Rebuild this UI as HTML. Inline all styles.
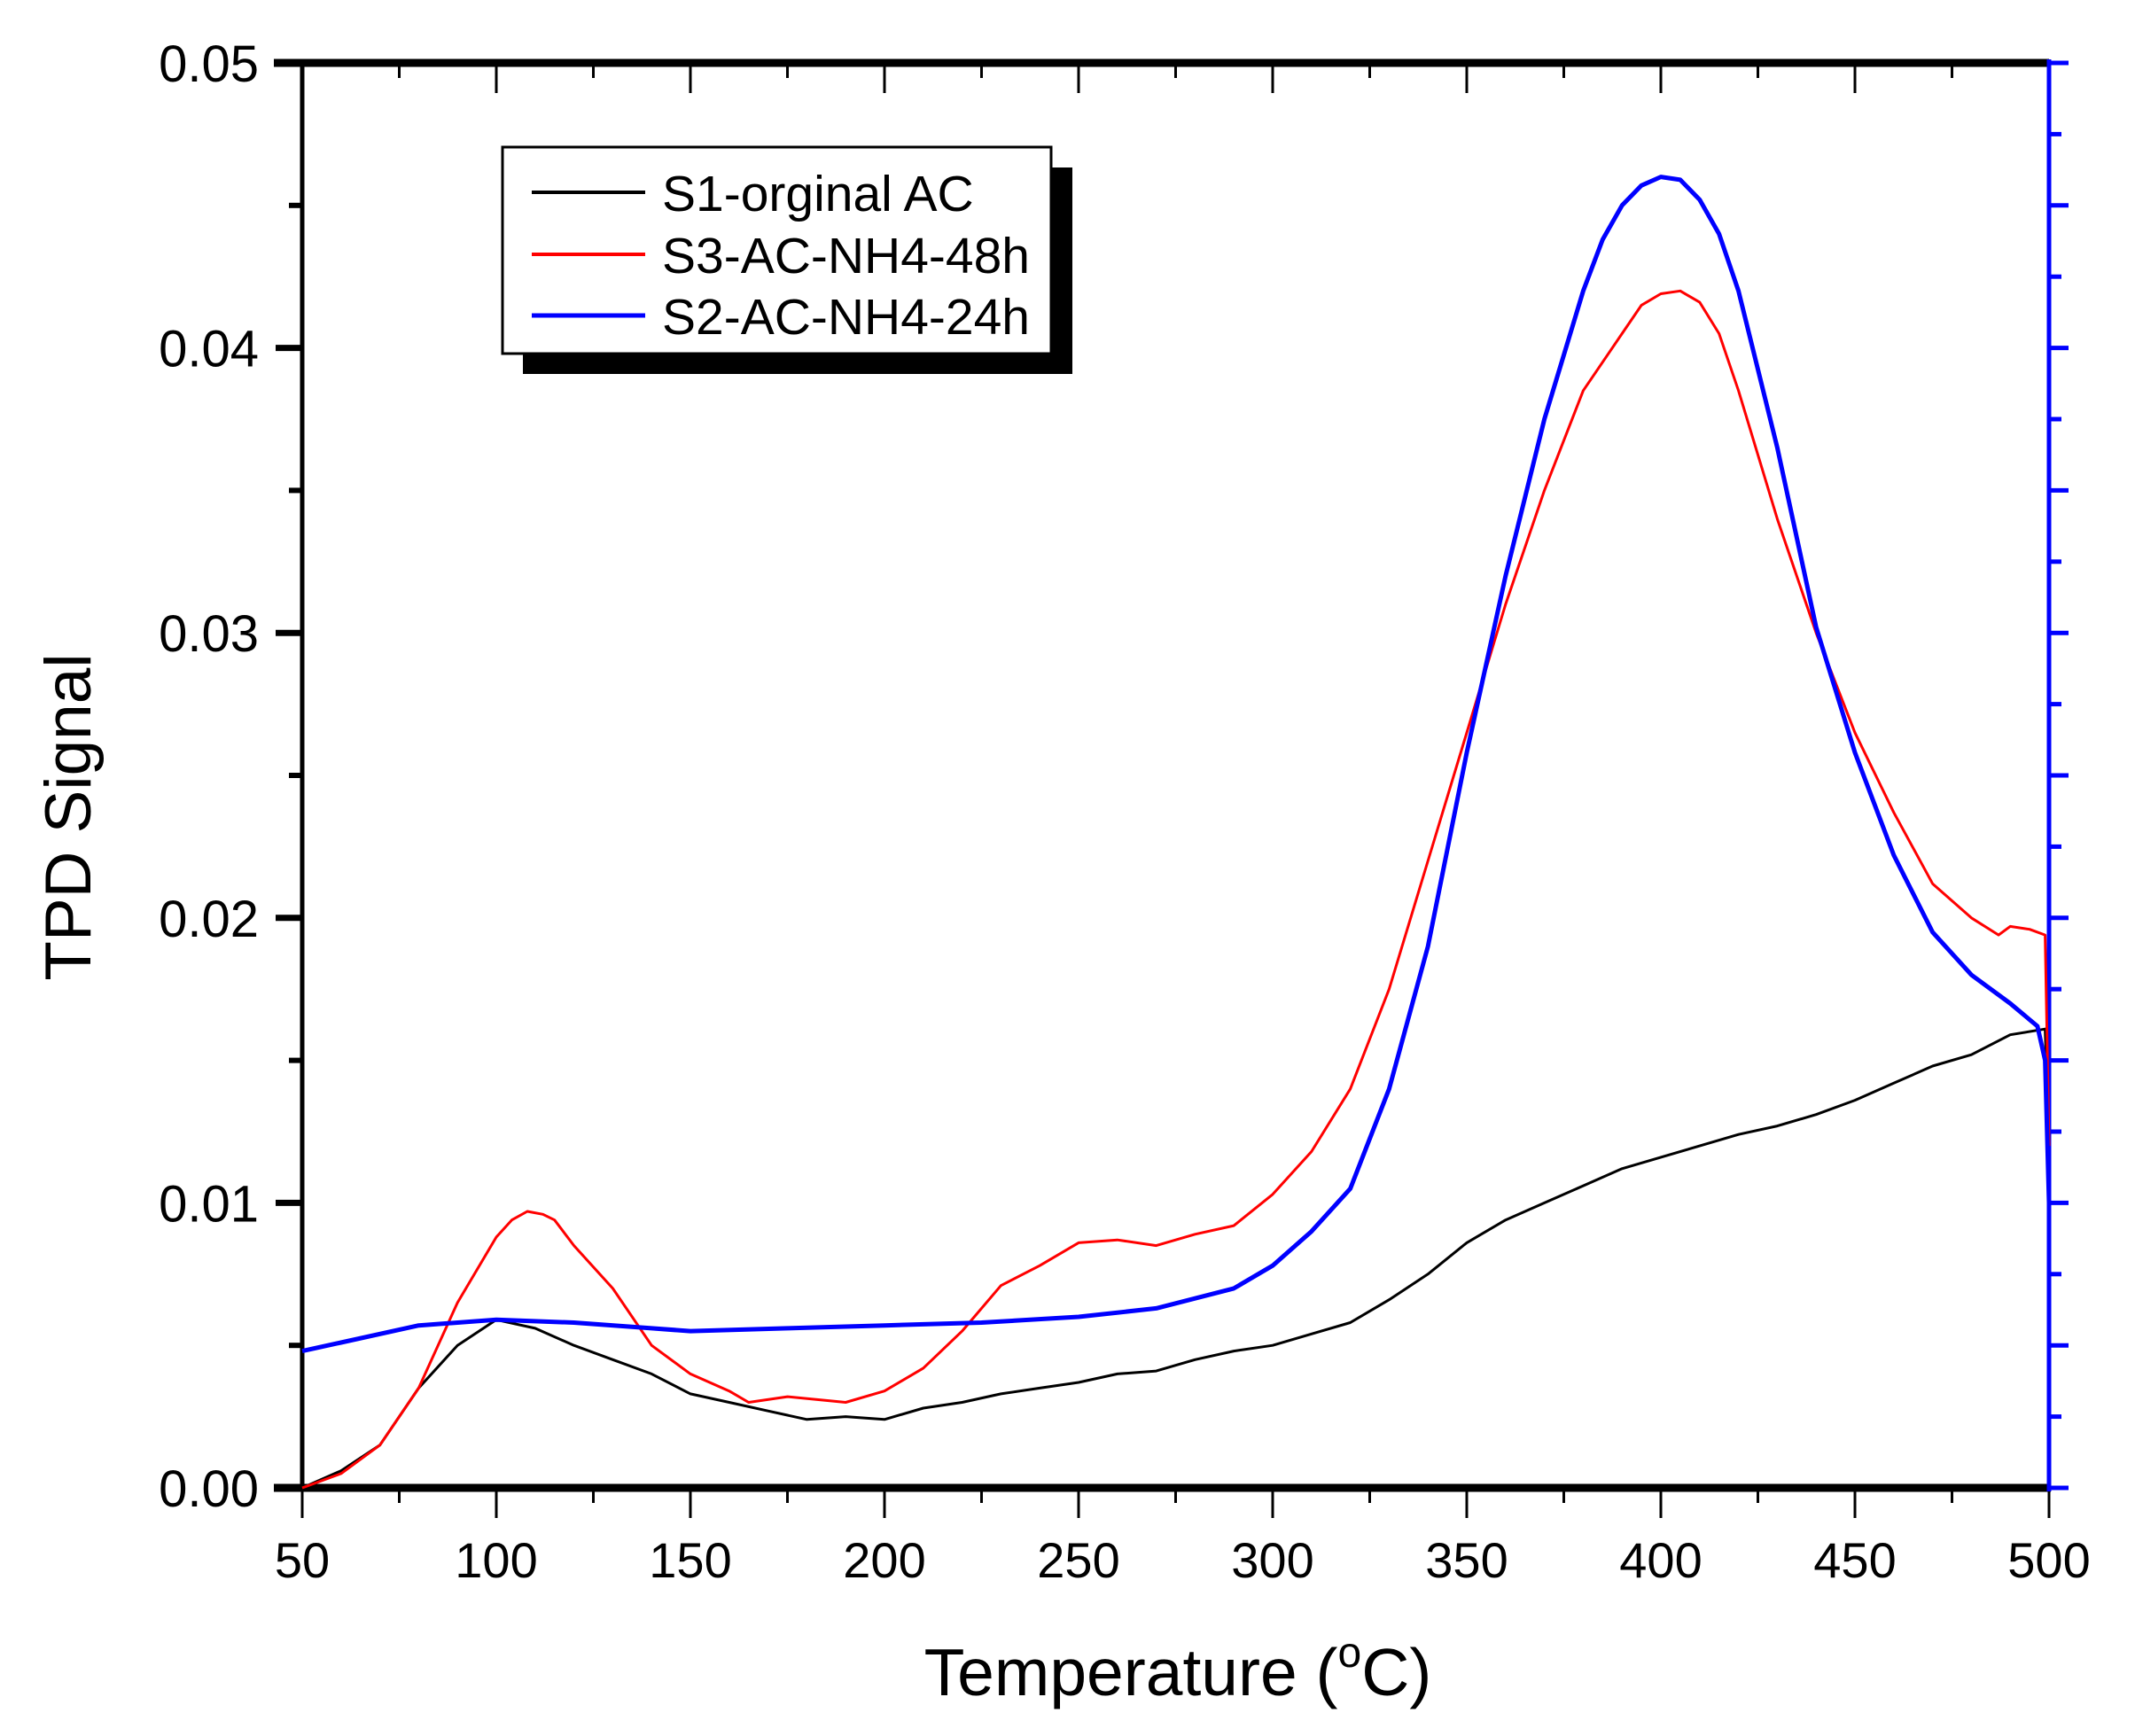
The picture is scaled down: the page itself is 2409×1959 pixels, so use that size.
<!DOCTYPE html>
<html><head><meta charset="utf-8"><style>
html,body{margin:0;padding:0;background:#fff;}
svg{display:block;font-family:"Liberation Sans",Arial,sans-serif;}
</style></head><body>
<svg id="chart" width="2409" height="1959" viewBox="0 0 2409 1959" xmlns="http://www.w3.org/2000/svg">
<g id="axes"></g>
<g id="series"></g>
<text x="1329" y="1913" font-size="75" text-anchor="middle">Temperature (<tspan font-size="48" dy="-32">o</tspan><tspan dy="32">C)</tspan></text>
<text transform="translate(102,922) rotate(-90)" font-size="73" text-anchor="middle">TPD Signal</text>
<g>
<rect x="590" y="189" width="620" height="233" fill="#000"/>
<rect x="567" y="166" width="619" height="233" fill="#fff" stroke="#000" stroke-width="3"/>
<line x1="600" y1="217" x2="728" y2="217" stroke="#000" stroke-width="4"/>
<text x="747" y="238" font-size="57">S1-orginal AC</text>
<line x1="600" y1="287" x2="728" y2="287" stroke="#f00" stroke-width="4"/>
<text x="747" y="308" font-size="57">S3-AC-NH4-48h</text>
<line x1="600" y1="356" x2="728" y2="356" stroke="#00f" stroke-width="5"/>
<text x="747" y="377" font-size="57">S2-AC-NH4-24h</text>
</g>
</svg>
<script>
const xS1=[50,60,70,80,90,100,110,120,130,140,150,160,170,180,190,200,210,220,230,240,250,260,270,280,290,300,310,320,330,340,350,360,370,380,390,400,410,420,430,440,450,460,470,480,490,499,500];
const yS1=[0,0.0006,0.0015,0.0035,0.005,0.0059,0.0056,0.005,0.0045,0.004,0.0033,0.003,0.0027,0.0024,0.0025,0.0024,0.0028,0.003,0.0033,0.0035,0.0037,0.004,0.0041,0.0045,0.0048,0.005,0.0054,0.0058,0.0066,0.0075,0.0086,0.0094,0.01,0.0106,0.0112,0.0116,0.012,0.0124,0.0127,0.0131,0.0136,0.0142,0.0148,0.0152,0.0159,0.0161,0.012];
const xS3=[50,60,70,80,90,100,104,108,112,115,120,130,140,150,160,165,175,190,200,210,220,230,240,250,260,270,280,290,300,310,320,330,340,350,360,370,380,390,395,400,405,410,415,420,430,440,450,460,470,480,487,490,495,499,500];
const yS3=[0,0.0005,0.0015,0.0035,0.0065,0.0088,0.0094,0.0097,0.0096,0.0094,0.0085,0.007,0.005,0.004,0.0034,0.003,0.0032,0.003,0.0034,0.0042,0.0055,0.0071,0.0078,0.0086,0.0087,0.0085,0.0089,0.0092,0.0103,0.0118,0.014,0.0175,0.022,0.0265,0.031,0.035,0.0385,0.0405,0.0415,0.0419,0.042,0.0416,0.0405,0.0385,0.034,0.03,0.0265,0.0237,0.0212,0.02,0.0194,0.0197,0.0196,0.0194,0.012];
const xS2=[50,60,80,100,120,140,150,175,200,225,250,270,290,300,310,320,330,340,350,360,370,380,385,390,395,400,405,410,415,420,430,440,450,460,470,480,490,497,499,500];
const yS2=[0.0048,0.0051,0.0057,0.0059,0.0058,0.0056,0.0055,0.0056,0.0057,0.0058,0.006,0.0063,0.007,0.0078,0.009,0.0105,0.014,0.019,0.0258,0.032,0.0375,0.042,0.0438,0.045,0.0457,0.046,0.0459,0.0452,0.044,0.042,0.0365,0.0302,0.0258,0.0222,0.0195,0.018,0.017,0.0162,0.015,0.01];
const xTicks=[50,100,150,200,250,300,350,400,450,500];
const yTicks=[0,0.01,0.02,0.03,0.04,0.05];
const yTickLabels=["0.00","0.01","0.02","0.03","0.04","0.05"];

const L=341,R=2312,T=71,B=1679;
const sx=v=>L+(v-50)/450*(R-L);
const sy=v=>B-v/0.05*(B-T);
const NS="http://www.w3.org/2000/svg";
function mk(tag,attrs,parent){const e=document.createElementNS(NS,tag);for(const k in attrs)e.setAttribute(k,attrs[k]);parent.appendChild(e);return e;}
const ax=document.getElementById('axes');
for(let v=50;v<=500;v+=25){const major=(v%50===0);
 const t=mk('line',{x1:sx(v),x2:sx(v),y1:B,y2:B+(major?34:17),stroke:'#000','stroke-width':3},ax);
 
 
 if(v<500){const t2=mk('line',{x1:sx(v),x2:sx(v),y1:T,y2:T+(major?34:17),stroke:'#000','stroke-width':3},ax);
 
 }
}
xTicks.forEach(v=>{const t=mk('text',{x:sx(v),y:1780,'font-size':56,'text-anchor':'middle'},ax);t.textContent=v;
 
 });
for(let i=0;i<=10;i++){const v=i*0.005;const major=i%2===0;
 const t=mk('line',{x1:L,x2:L-(major?30:15),y1:sy(v),y2:sy(v),stroke:'#000','stroke-width':major?7:6},ax);
 
 }
yTicks.forEach((v,i)=>{const t=mk('text',{x:292,y:sy(v)+21,'font-size':58,'text-anchor':'end'},ax);t.textContent=yTickLabels[i];
 
 });
for(let i=0;i<=20;i++){const v=i*0.0025;
 const t=mk('line',{x1:R,x2:R+(i%2===0?22:14),y1:sy(v),y2:sy(v),stroke:'#00f','stroke-width':5},ax);
 
 }
let a;
a=mk('line',{x1:L,x2:L,y1:T-3,y2:B+4,stroke:'#000','stroke-width':5},ax);


a=mk('line',{x1:L-32,x2:R+2,y1:B,y2:B,stroke:'#000','stroke-width':9},ax);


a=mk('line',{x1:L-32,x2:R,y1:T,y2:T,stroke:'#000','stroke-width':9},ax);


a=mk('line',{x1:R,x2:R,y1:T-4,y2:B+4,stroke:'#00f','stroke-width':5},ax);


const sg=document.getElementById('series');
function draw(xs,ys,color,w,name){const d=xs.map((x,i)=>(i?'L':'M')+sx(x).toFixed(1)+','+sy(ys[i]).toFixed(1)).join('');
 const p=mk('path',{d:d,fill:'none',stroke:color,'stroke-width':w,'stroke-linejoin':'round'},sg);
 
 }
draw(xS1,yS1,'#000',3,'line-s1-orginal-ac');
draw(xS3,yS3,'#f00',3,'line-s3-ac-nh4-48h');
draw(xS2,yS2,'#00f',5,'line-s2-ac-nh4-24h');
</script>
</body></html>
